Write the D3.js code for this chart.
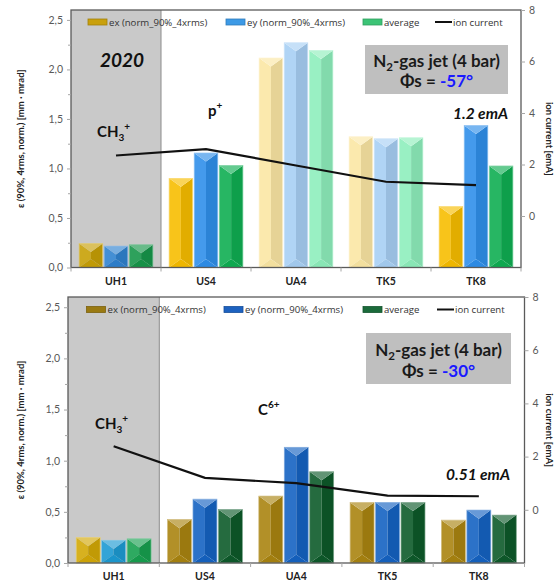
<!DOCTYPE html>
<html>
<head>
<meta charset="utf-8">
<script src="https://cdn.jsdelivr.net/npm/d3@7/dist/d3.min.js"></script>
<style>
  html, body { margin: 0; padding: 0; background: #fff; }
  svg { display: block; font-family: Lato, "Open Sans", "Liberation Sans", sans-serif; }
</style>
</head>
<body>
<svg id="chart" width="559" height="582"></svg>
<script>
// Beam positions along the line
const categories = ["UH1", "US4", "UA4", "TK5", "TK8"];
const seriesKeys = ["ex", "ey", "avg"];
const legendLabels = ["ex (norm_90%_4xrms)", "ey (norm_90%_4xrms)", "average", "ion current"];

// Emittance values, phase -57°
const exTop  = [0.243, 0.90, 2.115, 1.32, 0.615];
const eyTop  = [0.216, 1.156, 2.27, 1.30, 1.433];
const avgTop = [0.23, 1.03, 2.19, 1.31, 1.025];
const ionTop = [2.35, 2.6, 1.96, 1.33, 1.2];

// Emittance values, phase -30°
const exBottom  = [0.249, 0.425, 0.654, 0.592, 0.419];
const eyBottom  = [0.222, 0.624, 1.131, 0.592, 0.517];
const avgBottom = [0.236, 0.523, 0.892, 0.592, 0.468];
const ionBottom = [2.39, 1.2, 1.0, 0.53, 0.51];

// Axis ticks
const leftTicks = [0, 0.5, 1.0, 1.5, 2.0, 2.5];
const leftMinorTicks = [0.25, 0.75, 1.25, 1.75, 2.25];
const rightTicks = [0, 2, 4, 6, 8];
const leftDomain = [0, 2.6];
const rightDomain = [-2, 8];

const svg = d3.select("#chart");

// Colour sets
const topColors = {
  strong: { ex: "#f7bd00", ey: "#2f8fea", avg: "#0fae52" },
  pale:   { ex: "#fbe7a4", ey: "#a7cff4", avg: "#8eeebc" },
  first:  { ex: "#c7a006", ey: "#2f82cf", avg: "#17964a" },
  legend: { ex: "#c9a00c", ey: "#3d9ae6", avg: "#3cc476" }
};
const bottomColors = {
  strong: { ex: "#a98410", ey: "#1562c2", avg: "#0d5a2a" },
  first:  { ex: "#d3a806", ey: "#1c9ad2", avg: "#17a04f" },
  legend: { ex: "#9a7a12", ey: "#1d62c0", avg: "#1b6a3a" }
};

const panels = [
  {
    ex: exTop, ey: eyTop, avg: avgTop, ion: ionTop,
    left: 71, top: 10, right: 521, bottom: 267.5,
    legendY: 22,
    legendX: [88, 226, 363, 435],
    colors: topColors,
    barColor: (i, k) => i === 0 ? topColors.first[k] : (i === 2 || i === 3) ? topColors.pale[k] : topColors.strong[k],
    box: { x: 365, y: 45, w: 143, h: 49, line1: 66.5, line2: 87, phase: "-57°" },
    labels: [
      { kind: "year", text: "2020", x: 122, y: 67 },
      { kind: "ion", main: "CH", sub: "3", sup: "+", x: 97, y: 137 },
      { kind: "ion", main: "p", sub: "", sup: "+", x: 208, y: 116 },
      { kind: "current", text: "1.2 emA", x: 508, y: 119 }
    ]
  },
  {
    ex: exBottom, ey: eyBottom, avg: avgBottom, ion: ionBottom,
    left: 68, top: 297, right: 524.5, bottom: 563,
    legendY: 309.5,
    legendX: [86.5, 224, 363, 437],
    colors: bottomColors,
    barColor: (i, k) => i === 0 ? bottomColors.first[k] : bottomColors.strong[k],
    box: { x: 366, y: 333, w: 145, h: 51, line1: 355.5, line2: 377, phase: "-30°" },
    labels: [
      { kind: "ion", main: "CH", sub: "3", sup: "+", x: 95, y: 429 },
      { kind: "ion", main: "C", sub: "", sup: "6+", x: 258, y: 415 },
      { kind: "current", text: "0.51 emA", x: 510, y: 480 }
    ]
  }
];

function bevelBar(g, x, y, w, h, color) {
  const c = d3.color(color);
  const light = d3.interpolateRgb(color, "#ffffff");
  const t = Math.min(w * 0.36, h / 2);
  const cx = x + w / 2;
  const faces = [
    { pts: [[x, y], [cx, y + t], [cx, y + h - t], [x, y + h]], fill: light(0.1) },
    { pts: [[x + w, y], [cx, y + t], [cx, y + h - t], [x + w, y + h]], fill: c.darker(0.25).formatHex() },
    { pts: [[x, y + h], [x + w, y + h], [cx, y + h - t]], fill: c.darker(0.1).formatHex() },
    { pts: [[x, y], [x + w, y], [cx, y + t]], fill: light(0.35) }
  ];
  faces.forEach(f => {
    g.append("polygon")
      .attr("points", f.pts.map(p => p.join(",")).join(" "))
      .attr("fill", f.fill);
  });
  g.append("rect")
    .attr("x", x).attr("y", y).attr("width", w).attr("height", h)
    .attr("fill", "none")
    .attr("stroke", light(0.45))
    .attr("stroke-width", 0.7);
}

function drawPanel(p) {
  const g = svg.append("g");
  const x = d3.scaleBand().domain(categories)
    .range([p.left, p.right]).paddingInner(0.18).paddingOuter(0.09);
  const xs = d3.scaleBand().domain(seriesKeys)
    .range([0, x.bandwidth()]).paddingInner(0.06);
  const y = d3.scaleLinear().domain(leftDomain).range([p.bottom, p.top]);
  const y2 = d3.scaleLinear().domain(rightDomain).range([p.bottom, p.top]);

  // shaded first section
  g.append("rect")
    .attr("x", p.left).attr("y", p.top)
    .attr("width", x.step()).attr("height", p.bottom - p.top)
    .attr("fill", "#c9c9c9");
  g.append("line")
    .attr("x1", p.left + x.step()).attr("x2", p.left + x.step())
    .attr("y1", p.top).attr("y2", p.bottom)
    .attr("stroke", "#8c8c8c").attr("stroke-width", 1);

  // bars
  const values = { ex: p.ex, ey: p.ey, avg: p.avg };
  categories.forEach((cat, i) => {
    seriesKeys.forEach(k => {
      const v = values[k][i];
      const bx = x(cat) + xs(k);
      const by = y(v);
      bevelBar(g, bx, by, xs.bandwidth(), y(0) - by, p.barColor(i, k));
    });
  });

  // ion current line
  const line = d3.line()
    .x((d, i) => x(categories[i]) + x.bandwidth() / 2)
    .y(d => y2(d));
  g.append("path")
    .datum(p.ion)
    .attr("d", line)
    .attr("fill", "none")
    .attr("stroke", "#111")
    .attr("stroke-width", 2.2);

  // plot frame
  g.append("rect")
    .attr("x", p.left).attr("y", p.top)
    .attr("width", p.right - p.left).attr("height", p.bottom - p.top)
    .attr("fill", "none").attr("stroke", "#5a5a5a").attr("stroke-width", 1.3);

  // left axis
  const la = g.append("g").attr("transform", `translate(${p.left},0)`)
    .call(d3.axisLeft(y).tickValues(leftTicks).tickSize(4).tickPadding(4)
      .tickFormat(d => d3.format(".1f")(d).replace(".", ",")));
  const lm = g.append("g").attr("transform", `translate(${p.left},0)`)
    .call(d3.axisLeft(y).tickValues(leftMinorTicks).tickSize(3).tickFormat(""));
  [la, lm].forEach(a => {
    a.select(".domain").remove();
    a.selectAll("line").attr("stroke", "#a6a6a6");
  });
  la.selectAll("text").attr("fill", "#595959").style("font-size", "10.5px")
    .style("font-family", "Lato, sans-serif");

  // right axis
  const ra = g.append("g").attr("transform", `translate(${p.right},0)`)
    .call(d3.axisRight(y2).tickValues(rightTicks).tickSize(4).tickPadding(4));
  ra.select(".domain").remove();
  ra.selectAll("line").attr("stroke", "#a6a6a6");
  ra.selectAll("text").attr("fill", "#595959").style("font-size", "10.5px")
    .style("font-family", "Lato, sans-serif");

  // bottom axis: labels at band centres, ticks at section boundaries
  const ba = g.append("g").attr("transform", `translate(0,${p.bottom})`)
    .call(d3.axisBottom(x).tickSize(0).tickPadding(10));
  ba.select(".domain").remove();
  ba.selectAll("text").attr("fill", "#222").style("font-size", "10.5px")
    .style("font-weight", "bold").style("font-family", "Lato, sans-serif");
  const bounds = [p.left].concat(categories.map(c => x(c) + x.bandwidth() + x.step() * x.paddingInner() / 2));
  g.selectAll(".btick").data(bounds).join("line")
    .attr("x1", d => d).attr("x2", d => d)
    .attr("y1", p.bottom).attr("y2", p.bottom + 4)
    .attr("stroke", "#a6a6a6");

  // axis titles
  g.append("text")
    .attr("transform", `translate(24,${(p.top + p.bottom) / 2}) rotate(-90)`)
    .attr("text-anchor", "middle")
    .style("font-size", "9.5px").style("font-weight", "bold").attr("fill", "#222")
    .text("ε (90%, 4rms, norm.) [mm · mrad]");
  g.append("text")
    .attr("transform", `translate(546,${(p.top + p.bottom) / 2}) rotate(90)`)
    .attr("text-anchor", "middle")
    .style("font-size", "9.5px").style("font-weight", "bold").attr("fill", "#222")
    .text("ion current [emA]");

  // legend
  const lg = g.append("g").style("font-size", "9.6px")
    .style("font-family", "'Open Sans', Lato, sans-serif").attr("fill", "#333");
  seriesKeys.forEach((k, i) => {
    const lx = p.legendX[i];
    lg.append("rect")
      .attr("x", lx).attr("y", p.legendY - 3).attr("width", 19).attr("height", 6)
      .attr("fill", p.colors.legend[k])
      .attr("stroke", d3.color(p.colors.legend[k]).darker(0.6)).attr("stroke-width", 0.8);
    lg.append("text").attr("x", lx + 21).attr("y", p.legendY + 3.5).text(legendLabels[i]);
  });
  const ix = p.legendX[3];
  lg.append("line").attr("x1", ix).attr("x2", ix + 17)
    .attr("y1", p.legendY).attr("y2", p.legendY)
    .attr("stroke", "#111").attr("stroke-width", 2);
  lg.append("text").attr("x", ix + 18).attr("y", p.legendY + 3.5).text(legendLabels[3]);

  // info box
  const b = p.box;
  g.append("rect").attr("x", b.x).attr("y", b.y).attr("width", b.w).attr("height", b.h)
    .attr("fill", "#bfbfbf");
  const t1 = g.append("text").attr("x", b.x + b.w / 2).attr("y", b.line1)
    .attr("text-anchor", "middle").style("font-size", "17px").style("font-weight", "bold")
    .attr("fill", "#1a1a1a");
  t1.append("tspan").text("N");
  t1.append("tspan").attr("dy", 4).style("font-size", "11.5px").text("2");
  t1.append("tspan").attr("dy", -4).text("-gas jet (4 bar)");
  const t2 = g.append("text").attr("x", b.x + b.w / 2).attr("y", b.line2)
    .attr("text-anchor", "middle").style("font-size", "17px").style("font-weight", "bold")
    .attr("fill", "#1a1a1a");
  t2.append("tspan").text("Φs = ");
  t2.append("tspan").attr("fill", "#1a1aff").text(b.phase);

  // annotations
  p.labels.forEach(l => {
    if (l.kind === "year") {
      g.append("text").attr("x", l.x).attr("y", l.y).attr("text-anchor", "middle")
        .style("font-size", "19px").style("font-weight", "bold").style("font-style", "italic")
        .attr("fill", "#111").text(l.text);
    } else if (l.kind === "current") {
      g.append("text").attr("x", l.x).attr("y", l.y).attr("text-anchor", "end")
        .style("font-size", "15.5px").style("font-weight", "bold").style("font-style", "italic")
        .attr("fill", "#111").text(l.text);
    } else {
      const t = g.append("text").attr("x", l.x).attr("y", l.y)
        .style("font-size", "15px").style("font-weight", "bold").attr("fill", "#111");
      t.append("tspan").text(l.main);
      let shift = 0;
      if (l.sub) {
        t.append("tspan").attr("dy", 4).style("font-size", "10px").text(l.sub);
        shift = 4;
      }
      t.append("tspan").attr("dy", -7 - shift).style("font-size", "10px").text(l.sup);
    }
  });
}

panels.forEach(drawPanel);
</script>
</body>
</html>
